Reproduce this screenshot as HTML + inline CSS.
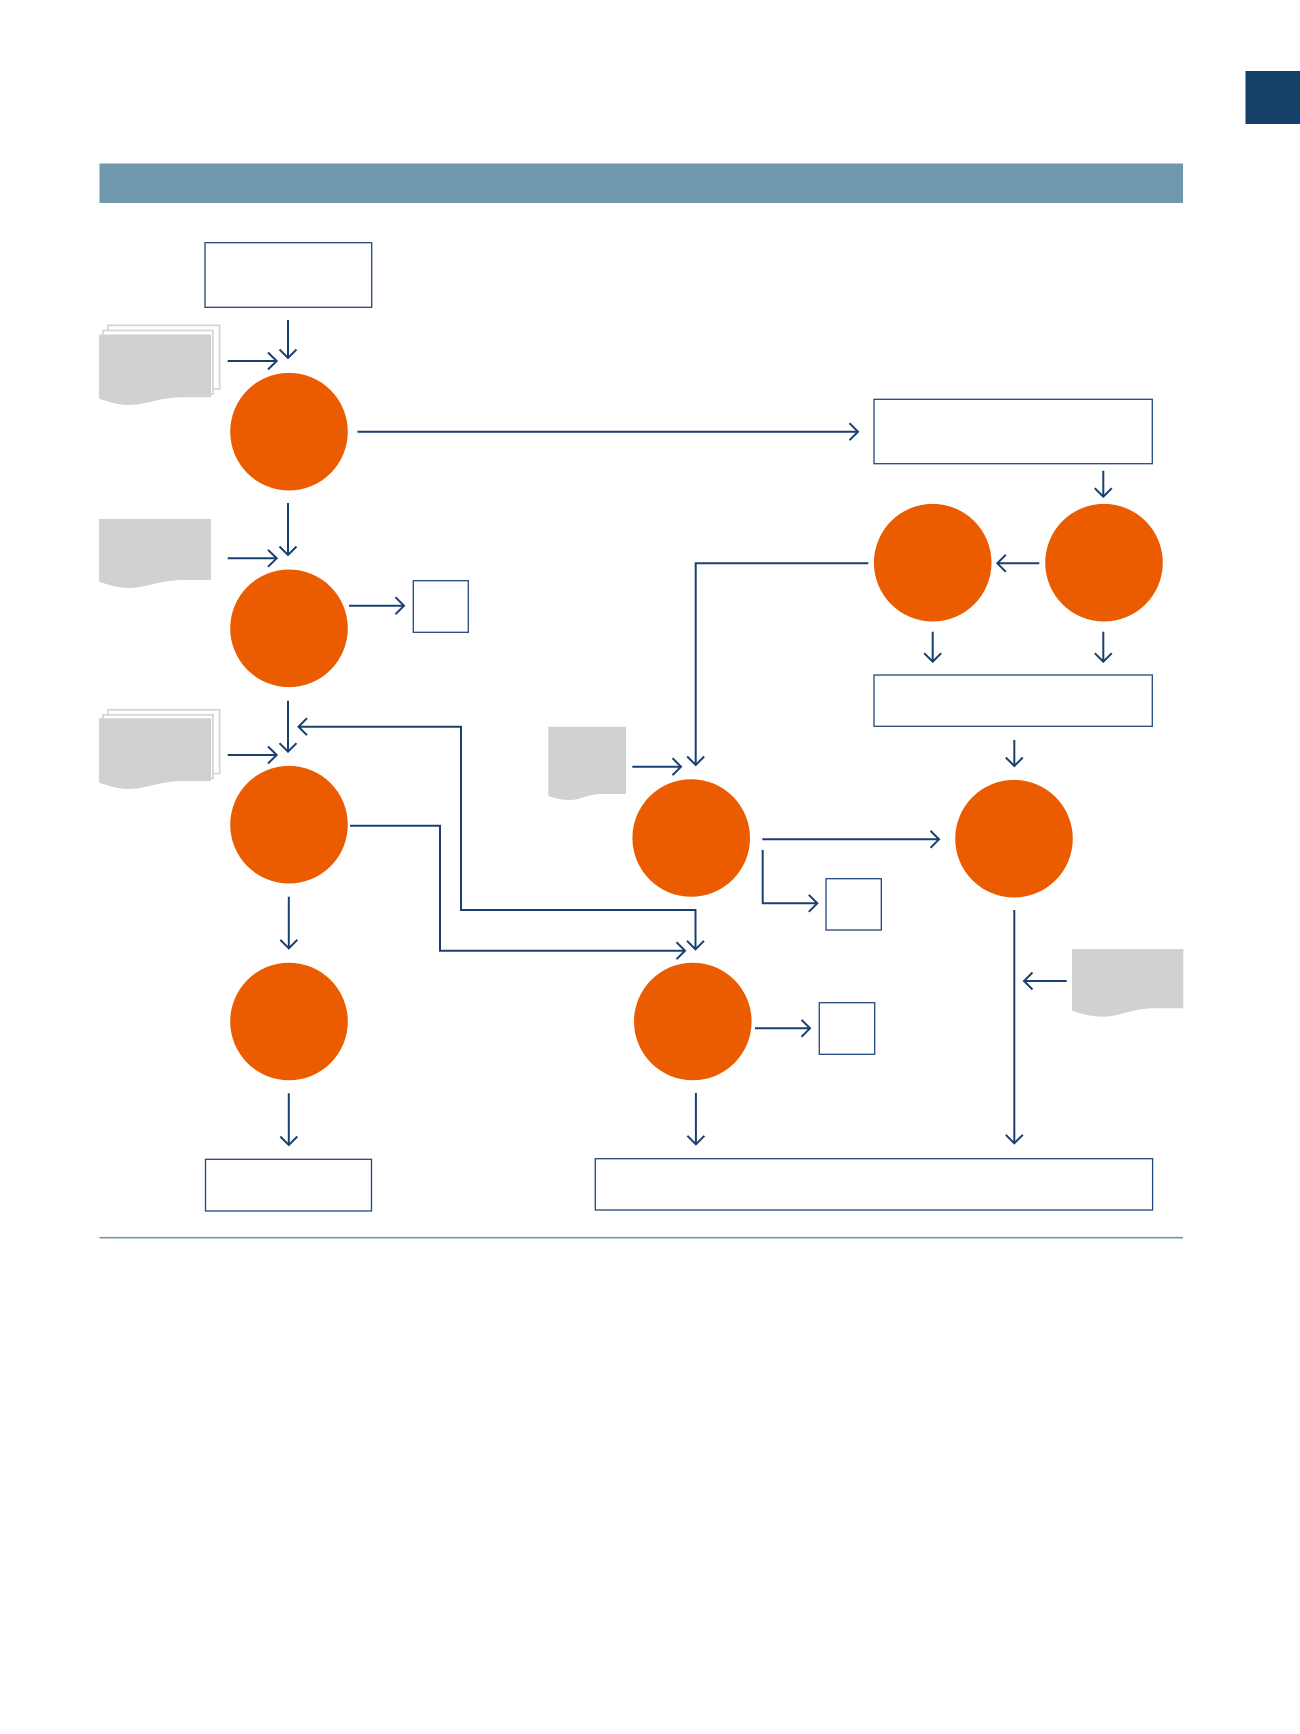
<!DOCTYPE html>
<html>
<head>
<meta charset="utf-8">
<style>
  html, body { margin: 0; padding: 0; background: #ffffff; }
  body { width: 1300px; height: 1734px; overflow: hidden; font-family: "Liberation Sans", sans-serif; }
  svg { display: block; }
</style>
</head>
<body>
<svg width="1300" height="1734" viewBox="0 0 1300 1734" xmlns="http://www.w3.org/2000/svg">
  <!-- top-right tab -->
  <rect x="1245.5" y="71" width="54.5" height="53" fill="#143f69"/>
  <!-- banner -->
  <rect x="99.5" y="163.5" width="1083.5" height="39.5" fill="#6f98ad"/>
  <!-- bottom rule -->
  <line x1="99.5" y1="1237.7" x2="1183" y2="1237.7" stroke="#7596ab" stroke-width="1.6"/>

  <!-- boxes -->
  <g fill="#ffffff" stroke="#23497a" stroke-width="1.3">
    <rect x="205" y="242.7" width="166.7" height="64.6"/>
    <rect x="874" y="399.3" width="278.3" height="64.4"/>
    <rect x="874" y="675" width="278.3" height="51.3"/>
    <rect x="413.3" y="580.7" width="55" height="51.6"/>
    <rect x="826" y="878.7" width="55.3" height="51.3"/>
    <rect x="819.3" y="1002.7" width="55.4" height="51.6"/>
    <rect x="205.5" y="1159.3" width="166" height="51.7"/>
    <rect x="595.3" y="1158.7" width="557.3" height="51.3"/>
  </g>

  <!-- document stacks (back sheets) -->
  <g fill="#ffffff" stroke="#d3d4d4" stroke-width="1.7">
    <rect x="108" y="325.3" width="111.7" height="63.7"/>
    <rect x="103" y="330.5" width="110" height="63.5"/>
    <rect x="108" y="709.8" width="111.7" height="63.7"/>
    <rect x="103" y="714.8" width="110" height="63.5"/>
  </g>

  <!-- documents -->
  <g fill="#d0d1d1">
    <!-- doc1 front -->
    <path d="M99,334.5 H211 V397.3 H183 C160,397.3 145,405 130,405 C116,405 106,401 99,398.5 Z"/>
    <!-- doc2 -->
    <path d="M99,519 H211 V580 H183 C160,580 145,588 130,588 C116,588 106,584 99,581.5 Z"/>
    <!-- doc3 front -->
    <path d="M99,718.3 H211 V781 H183 C160,781 145,789 130,789 C116,789 106,785 99,782.5 Z"/>
    <!-- doc4 -->
    <path d="M548.3,726.7 H626 V794 H603 C588,794 580,800 570,800 C560,800 553,797.5 548.3,796 Z"/>
    <!-- doc5 -->
    <path d="M1072,949 H1183.3 V1008.3 H1155 C1132,1008.3 1118,1016.7 1103,1016.7 C1089,1016.7 1079,1013 1072,1010.5 Z"/>
  </g>

  <!-- circles -->
  <g fill="#eb5c00">
    <circle cx="289" cy="431.7" r="58.8"/>
    <circle cx="289" cy="628.3" r="58.8"/>
    <circle cx="289" cy="824.7" r="58.8"/>
    <circle cx="289" cy="1021.5" r="58.8"/>
    <circle cx="932.7" cy="562.7" r="58.8"/>
    <circle cx="1104" cy="562.7" r="58.8"/>
    <circle cx="691.2" cy="838" r="58.8"/>
    <circle cx="1014" cy="838.7" r="58.8"/>
    <circle cx="692.8" cy="1021.5" r="58.8"/>
  </g>

  <!-- connectors -->
  <g fill="none" stroke="#1a4070" stroke-width="2" stroke-linejoin="miter" stroke-linecap="butt">
    <!-- 1 top box -> c1 -->
    <line x1="288" y1="320" x2="288" y2="357.5"/>
    <polyline points="279.5,349.5 288,358 296.5,349.5"/>
    <!-- 2 doc1 -> c1 -->
    <line x1="227.7" y1="361" x2="276" y2="361"/>
    <polyline points="268,352.5 276.7,361 268,369.5"/>
    <!-- 3 c1 -> R1 -->
    <line x1="357.5" y1="431.7" x2="857.5" y2="431.7"/>
    <polyline points="849.5,423.2 858,431.7 849.5,440.2"/>
    <!-- 4 c1 -> c2 -->
    <line x1="288" y1="503" x2="288" y2="554.5"/>
    <polyline points="279.5,546.5 288,555 296.5,546.5"/>
    <!-- 5 doc2 -> c2 -->
    <line x1="227.7" y1="558.3" x2="276" y2="558.3"/>
    <polyline points="268,549.8 276.7,558.3 268,566.8"/>
    <!-- 6 c2 -> small1 -->
    <line x1="349" y1="605.7" x2="403.5" y2="605.7"/>
    <polyline points="395.5,597.2 404,605.7 395.5,614.2"/>
    <!-- 7 c2 -> c3 -->
    <line x1="288" y1="700.7" x2="288" y2="751"/>
    <polyline points="279.5,743.2 288,751.7 296.5,743.2"/>
    <!-- 8 doc3 -> c3 -->
    <line x1="227.7" y1="755" x2="276" y2="755"/>
    <polyline points="268,746.5 276.7,755 268,763.5"/>
    <!-- 9 feedback loop -->
    <polyline points="299,726.7 461,726.7 461,910 695.5,910 695.5,948.5"/>
    <polyline points="307,718.2 298.5,726.7 307,735.2"/>
    <polyline points="687,940.8 695.5,949.3 704,940.8"/>
    <!-- 10 c3 -> c7 -->
    <polyline points="350,825.7 440,825.7 440,950.7 684.5,950.7"/>
    <polyline points="676.5,942.2 685,950.7 676.5,959.2"/>
    <!-- 11 c3 -> c6 -->
    <line x1="288.8" y1="896.7" x2="288.8" y2="947.5"/>
    <polyline points="280.3,939.8 288.8,948.3 297.3,939.8"/>
    <!-- 12 c6 -> BL -->
    <line x1="288.8" y1="1093.3" x2="288.8" y2="1144.3"/>
    <polyline points="280.3,1136.5 288.8,1145 297.3,1136.5"/>
    <!-- 13 c7 -> BR -->
    <line x1="695.9" y1="1093" x2="695.9" y2="1143.6"/>
    <polyline points="687.4,1135.8 695.9,1144.3 704.4,1135.8"/>
    <!-- 14 c7 -> small3 -->
    <line x1="755" y1="1028.3" x2="809.5" y2="1028.3"/>
    <polyline points="801.5,1019.8 810,1028.3 801.5,1036.8"/>
    <!-- 15 c4 -> c5 -->
    <line x1="762.3" y1="839.3" x2="938.5" y2="839.3"/>
    <polyline points="930.5,830.8 939,839.3 930.5,847.8"/>
    <!-- 16 c4 -> small2 -->
    <polyline points="762.7,850 762.7,903.3 816.8,903.3"/>
    <polyline points="808.8,894.8 817.3,903.3 808.8,911.8"/>
    <!-- 17 doc4 -> c4 -->
    <line x1="632.3" y1="766.7" x2="680.5" y2="766.7"/>
    <polyline points="672.5,758.2 681,766.7 672.5,775.2"/>
    <!-- 18 A -> c4 -->
    <polyline points="868.3,563.3 695.7,563.3 695.7,764.3"/>
    <polyline points="687.2,756.5 695.7,765 704.2,756.5"/>
    <!-- 19 B -> A -->
    <line x1="1039.3" y1="563.3" x2="998" y2="563.3"/>
    <polyline points="1005.8,554.8 997.3,563.3 1005.8,571.8"/>
    <!-- 20 R1 -> B -->
    <line x1="1103.3" y1="470.7" x2="1103.3" y2="496"/>
    <polyline points="1094.8,488.2 1103.3,496.7 1111.8,488.2"/>
    <!-- 21 A -> R2 -->
    <line x1="932.7" y1="631.7" x2="932.7" y2="661"/>
    <polyline points="924.2,653.2 932.7,661.7 941.2,653.2"/>
    <!-- 22 B -> R2 -->
    <line x1="1103.3" y1="631.7" x2="1103.3" y2="661"/>
    <polyline points="1094.8,653.2 1103.3,661.7 1111.8,653.2"/>
    <!-- 23 R2 -> c5 -->
    <line x1="1014.3" y1="740" x2="1014.3" y2="765.3"/>
    <polyline points="1005.8,757.5 1014.3,766 1022.8,757.5"/>
    <!-- 24 c5 -> BR -->
    <line x1="1014.3" y1="910" x2="1014.3" y2="1142.6"/>
    <polyline points="1005.8,1134.8 1014.3,1143.3 1022.8,1134.8"/>
    <!-- 25 doc5 -> line -->
    <line x1="1066.7" y1="981" x2="1024.7" y2="981"/>
    <polyline points="1032.5,972.5 1024,981 1032.5,989.5"/>
  </g>
</svg>
</body>
</html>
